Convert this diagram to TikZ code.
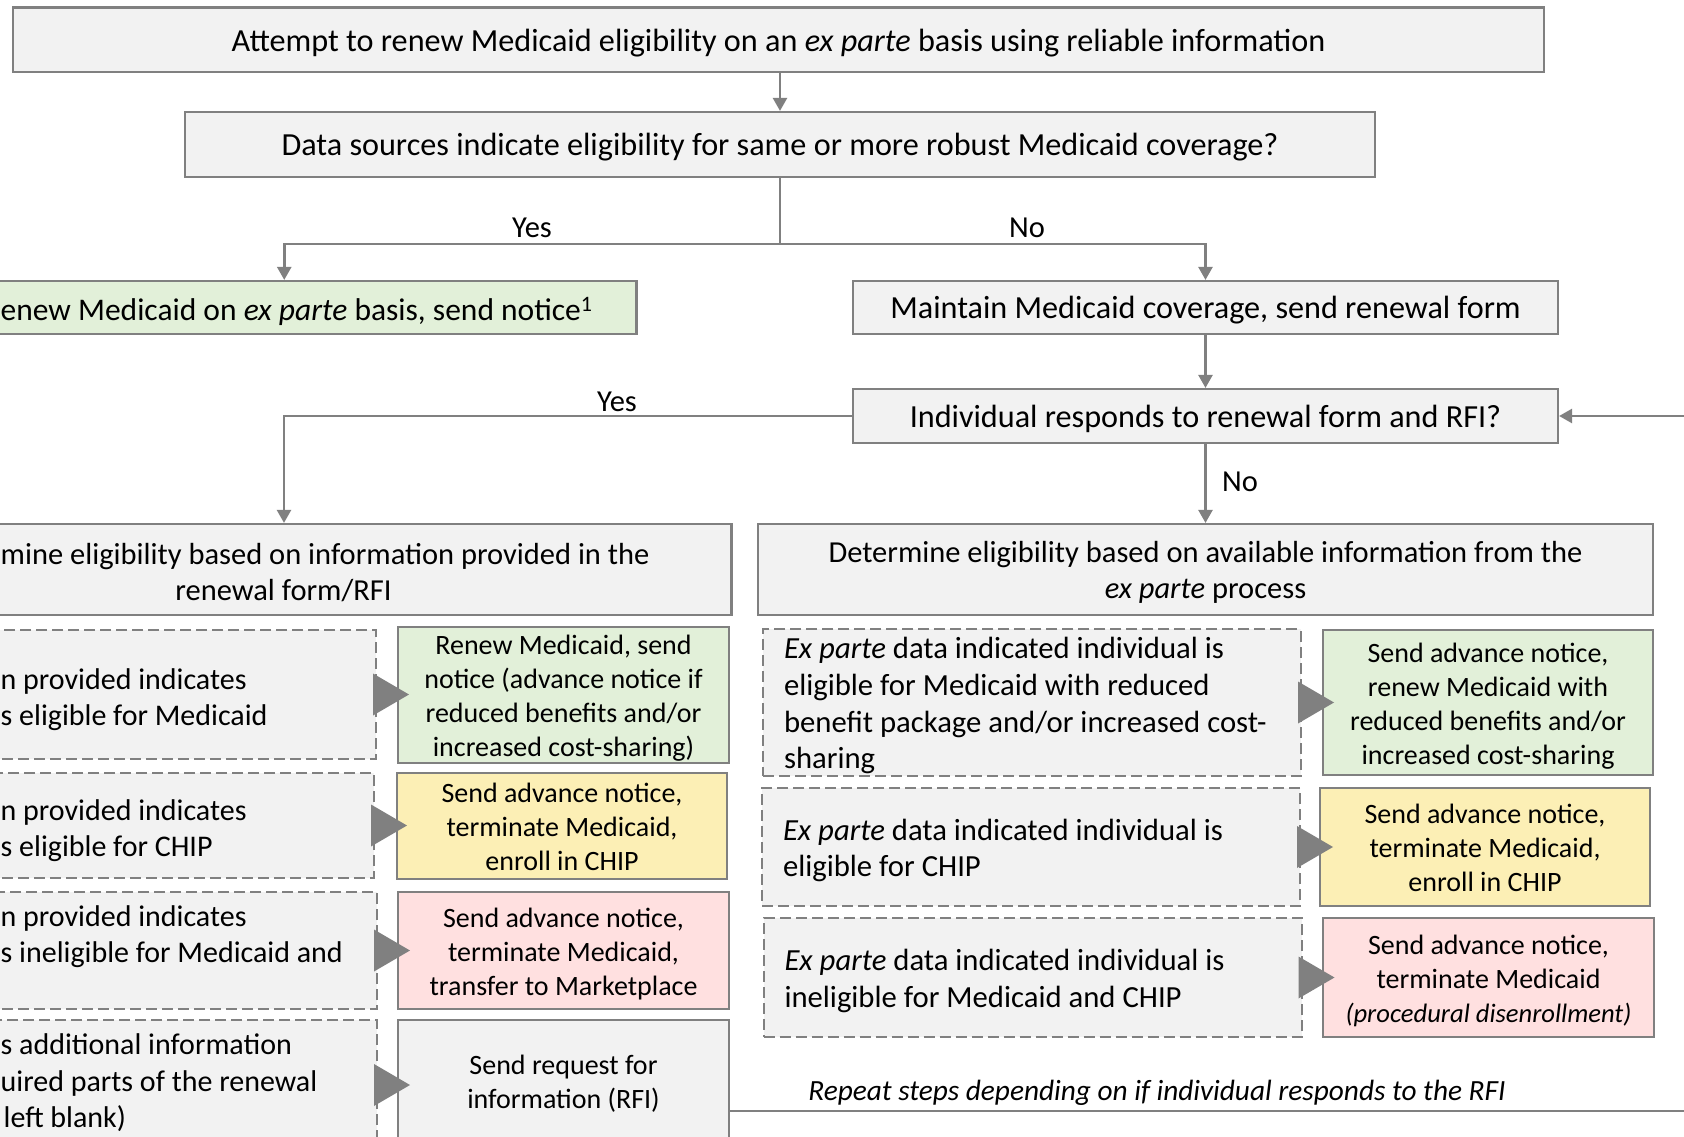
\documentclass[tikz,border=0pt]{standalone}
\usepackage{fontspec}
\setmainfont{Carlito}
\usetikzlibrary{arrows.meta,calc}
\definecolor{bgray}{RGB}{128,128,128}
\definecolor{fgray}{RGB}{242,242,242}
\definecolor{fgreen}{RGB}{226,240,217}
\definecolor{fyellow}{RGB}{252,239,181}
\definecolor{fpink}{RGB}{255,224,224}
\newcommand\fsM{\fontsize{32.2}{36.6}\selectfont}
\newcommand\fsA{\fontsize{30.5}{36}\selectfont}
\newcommand\fsD{\fontsize{30}{36.6}\selectfont}
\newcommand\fsR{\fontsize{30.7}{36.6}\selectfont}
\newcommand\fsB{\fontsize{28}{34}\selectfont}
\newcommand\fsC{\fontsize{26.6}{33}\selectfont}
\newcommand\dn[1]{\raisebox{-4pt}[\height][\depth]{#1}}
\newcommand\mc[1]{\dn{\spaceskip=0pt\xspaceskip=0pt\relax\begin{tabular}{@{}c@{}}#1\end{tabular}}}
\newcommand\mlft[1]{\dn{\spaceskip=0pt\xspaceskip=0pt\relax\begin{tabular}{@{}l@{}}#1\end{tabular}}}
\begin{document}
\begin{tikzpicture}[x=1pt,y=-1pt,
 sbox/.style={draw=bgray, fill=fgray, line width=2.2pt, inner sep=0pt, font=\fsM},
 cbox/.style={sbox, font=\fsB},
 dbox/.style={draw=bgray, fill=fgray, line width=2pt, dash pattern=on 11pt off 5pt, inner ysep=0pt, inner xsep=21pt, align=left, font=\fsD},
 lbl/.style={font=\fsD, inner sep=0pt},
 arr/.style={draw=bgray, line width=2.5pt, -{Triangle[length=13pt,width=14pt]}},
 ln/.style={draw=bgray, line width=2.5pt},
 tri/.style={fill=bgray}
]
\useasboundingbox (0,0) rectangle (1684,1137);
\clip (0,0) rectangle (1684,1137);
\fill[white] (0,0) rectangle (1684,1137);

% top part
\node[sbox, minimum width=1531pt, minimum height=64.5pt] (top) at (778.5,39.75) {\mc{Attempt to renew Medicaid eligibility on an \textit{ex parte} basis using reliable information}};
\node[sbox, minimum width=1190pt, minimum height=65pt] (q1) at (780,144.5) {\mc{Data sources indicate eligibility for same or more robust Medicaid coverage?}};
\node[sbox, fill=fgreen, minimum width=704.5pt, minimum height=53pt] (renew) at (284.25,307.5) {};
\node[lbl, font=\fontsize{31.5}{36}\selectfont, anchor=west] (renewt) at (0.5,311) {enew Medicaid on \textit{ex parte} basis, send notice\textsuperscript{1}};
\node[sbox, minimum width=705pt, minimum height=53pt] (maintain) at (1205.5,307.5) {\mc{Maintain Medicaid coverage, send renewal form}};
\node[sbox, minimum width=705pt, minimum height=54pt] (q2) at (1205.5,416) {\mc{Individual responds to renewal form and RFI?}};
\node[sbox, minimum width=895pt, minimum height=91pt] (detL) at (284,569.5) {};
\node[lbl, font=\fsA, anchor=west] (detLa) at (0.5,557) {mine eligibility based on information provided in the};
\node[lbl, font=\fsA] (detLb) at (283.5,590.5) {renewal form/RFI};
\node[sbox, font=\fsA, minimum width=895pt, minimum height=91pt] (detR) at (1205.5,569.5) {\mc{Determine eligibility based on available information from the\\\textit{ex parte} process}};

% connectors top
\coordinate (sp) at (780,244);
\draw[arr] (top.south -| q1.north) -- (q1.north);
\draw[ln] (q1.south) -- (sp);
\draw[arr] (sp) -| (renew.north);
\draw[arr] (sp) -| (maintain.north);
\draw[arr] (maintain.south) -- (q2.north);
\draw[arr] (q2.west) -| (detL.north);
\draw[arr] (q2.south) -- (detR.north);
\node[lbl, font=\fsA] (yes1) at (532,228) {Yes};
\node[lbl, font=\fsA] (no1) at (1027,228) {No};
\node[lbl, font=\fsA] (yes2) at (617,402) {Yes};
\node[lbl, font=\fsA, anchor=west] (no2) at (1222,482) {No};

% left dashed boxes
\node[dbox, minimum width=406pt, minimum height=129pt] (L1) at (173,694.5) {};
\node[dbox, minimum width=404pt, minimum height=105pt] (L2) at (172,825.5) {};
\node[dbox, minimum width=407pt, minimum height=117pt] (L3) at (173.5,950.5) {};
\node[dbox, minimum width=407pt, minimum height=130pt] (L4) at (173.5,1085) {};
\node[lbl, anchor=west] (L1t) at (0.5,696) {\mlft{n provided indicates\\s eligible for Medicaid}};
\node[lbl, anchor=west] (L2t) at (0.5,827) {\mlft{n provided indicates\\s eligible for CHIP}};
\node[lbl, anchor=west] (L3t) at (0.5,933) {\mlft{n provided indicates\\s ineligible for Medicaid and}};
\node[lbl, anchor=west] (L4t) at (0.5,1080) {\mlft{s additional information\\uired parts of the renewal\\\hspace*{3pt}left blank)}};

% left coloured boxes
\node[cbox, fill=fgreen, minimum width=331pt, minimum height=130pt] (C1) at (563.5,695) {\mc{Renew Medicaid, send\\notice (advance notice if\\reduced benefits and/or\\increased cost-sharing)}};
\node[cbox, fill=fyellow, minimum width=330pt, minimum height=106pt] (C2) at (562,826) {\mc{Send advance notice,\\terminate Medicaid,\\enroll in CHIP}};
\node[cbox, fill=fpink, minimum width=331pt, minimum height=117pt] (C3) at (563.5,950.5) {\mc{Send advance notice,\\terminate Medicaid,\\transfer to Marketplace}};
\node[cbox, minimum width=331pt, minimum height=122pt] (C4) at (563.5,1081) {\mc{Send request for\\information (RFI)}};

% right dashed boxes
\node[dbox, font=\fsR, minimum width=538pt, text width=496pt, minimum height=145pt] (R1) at (1032,702.5) {\mlft{\textit{Ex parte} data indicated individual is\\eligible for Medicaid with reduced\\benefit package and/or increased cost-\\sharing}};
\node[dbox, font=\fsR, minimum width=538pt, text width=496pt, minimum height=118pt] (R2) at (1031,847) {\mlft{\textit{Ex parte} data indicated individual is\\eligible for CHIP}};
\node[dbox, font=\fsR, minimum width=538pt, text width=496pt, minimum height=119pt] (R3) at (1032.5,977.5) {\mlft{\textit{Ex parte} data indicated individual is\\ineligible for Medicaid and CHIP}};

% right coloured boxes
\node[cbox, fill=fgreen, minimum width=330pt, minimum height=145pt] (D1) at (1488,702.5) {\mc{Send advance notice,\\renew Medicaid with\\reduced benefits and/or\\increased cost-sharing}};
\node[cbox, fill=fyellow, minimum width=330pt, minimum height=118pt] (D2) at (1485,847) {\mc{Send advance notice,\\terminate Medicaid,\\enroll in CHIP}};
\node[cbox, fill=fpink, minimum width=331pt, minimum height=119pt] (D3) at (1488.5,977.5) {\mc{Send advance notice,\\terminate Medicaid\\{\fsC\textit{(procedural disenrollment)}}}};

% triangles
\foreach \n in {L1,L2,L3,L4,R1,R2,R3}{
  \fill[tri] ($(\n.east)+(-4,-21)$) -- ++(36,21) -- ++(-36,21) -- cycle;
}

% loop back
\coordinate (lp1) at (1720,1111);
\coordinate (lp2) at (1720,416);
\draw[arr] (C4.east |- lp1) -- (lp1) -- (lp2) -- (q2.east);
\node[font=\fontsize{29.3}{34}\selectfont\itshape, inner sep=0pt] (rep) at (1157,1093) {Repeat steps depending on if individual responds to the RFI};
\end{tikzpicture}
\end{document}
